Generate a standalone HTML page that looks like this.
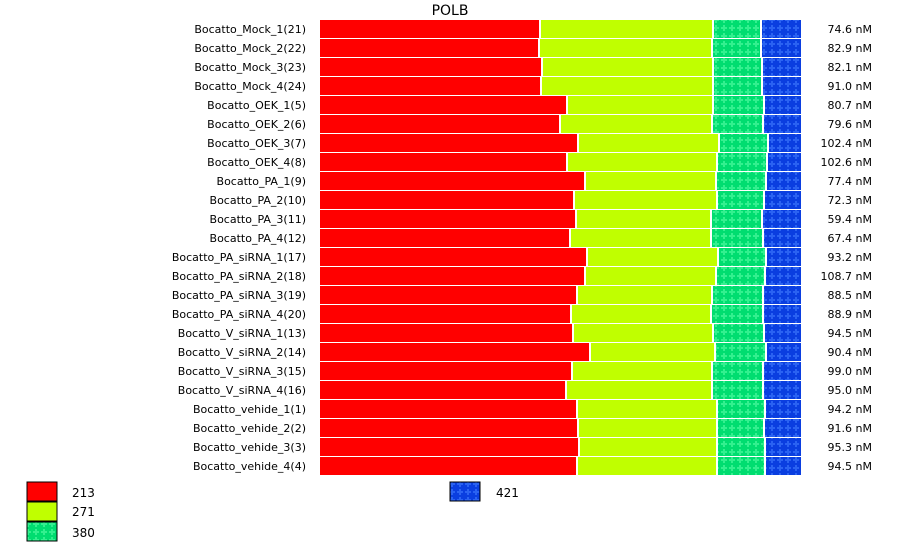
<!DOCTYPE html>
<html><head><style>body{margin:0;background:#fff}</style></head><body>
<svg width="900" height="546" xmlns="http://www.w3.org/2000/svg" font-family="DejaVu Sans, Liberation Sans, sans-serif" font-size="11">
<defs>
<pattern id="pg" width="8" height="8" patternUnits="userSpaceOnUse"><rect width="8" height="8" fill="#00dd70"/><path d="M3 1h2v2h2v2h-2v2h-2v-2h-2v-2h2z" fill="#33f08f"/></pattern>
<pattern id="pb" width="8" height="8" patternUnits="userSpaceOnUse"><rect width="8" height="8" fill="#0a3ee0"/><path d="M3 1h2v2h2v2h-2v2h-2v-2h-2v-2h2z" fill="#2a62f2"/></pattern>
</defs>
<text x="450" y="15" font-size="14" text-anchor="middle">POLB</text>
<g id="rows"></g>
<rect x="27" y="482" width="30" height="19" fill="#f00" stroke="#000"/>
<rect x="27" y="502" width="30" height="19" fill="#c0ff00" stroke="#000"/>
<rect x="27" y="522" width="30" height="19" fill="url(#pg)" stroke="#000"/>
<text x="72" y="497" font-size="12">213</text>
<text x="72" y="516" font-size="12">271</text>
<text x="72" y="537" font-size="12">380</text>
<rect x="450" y="482" width="30" height="19" fill="url(#pb)" stroke="#000"/>
<text x="496" y="497" font-size="12">421</text>
</svg>
<script>
var d=[["Bocatto_Mock_1(21)",539,712,760,"74.6"],["Bocatto_Mock_2(22)",538,711,760,"82.9"],["Bocatto_Mock_3(23)",541,712,761,"82.1"],["Bocatto_Mock_4(24)",540,712,761,"91.0"],["Bocatto_OEK_1(5)",566,712,763,"80.7"],["Bocatto_OEK_2(6)",559,711,762,"79.6"],["Bocatto_OEK_3(7)",577,718,767,"102.4"],["Bocatto_OEK_4(8)",566,716,766,"102.6"],["Bocatto_PA_1(9)",584,715,765,"77.4"],["Bocatto_PA_2(10)",573,716,763,"72.3"],["Bocatto_PA_3(11)",575,710,761,"59.4"],["Bocatto_PA_4(12)",569,710,762,"67.4"],["Bocatto_PA_siRNA_1(17)",586,717,765,"93.2"],["Bocatto_PA_siRNA_2(18)",584,715,764,"108.7"],["Bocatto_PA_siRNA_3(19)",576,711,762,"88.5"],["Bocatto_PA_siRNA_4(20)",570,710,762,"88.9"],["Bocatto_V_siRNA_1(13)",572,712,763,"94.5"],["Bocatto_V_siRNA_2(14)",589,714,765,"90.4"],["Bocatto_V_siRNA_3(15)",571,711,762,"99.0"],["Bocatto_V_siRNA_4(16)",565,711,762,"95.0"],["Bocatto_vehide_1(1)",576,716,764,"94.2"],["Bocatto_vehide_2(2)",577,716,763,"91.6"],["Bocatto_vehide_3(3)",578,716,764,"95.3"],["Bocatto_vehide_4(4)",576,716,764,"94.5"]];
var s="";d.forEach(function(r,i){var y=20+i*19,h=18;
s+='<rect x="320" y="'+y+'" width="'+(r[1]-320)+'" height="'+h+'" fill="#f00"/>';
s+='<rect x="'+(r[1]+2)+'" y="'+y+'" width="'+(r[2]-r[1]-2)+'" height="'+h+'" fill="#c0ff00"/>';
s+='<rect x="'+(r[2]+2)+'" y="'+y+'" width="'+(r[3]-r[2]-2)+'" height="'+h+'" fill="url(#pg)"/>';
s+='<rect x="'+(r[3]+2)+'" y="'+y+'" width="'+(801-r[3]-2)+'" height="'+h+'" fill="url(#pb)"/>';
s+='<text x="306" y="'+(y+13)+'" text-anchor="end">'+r[0]+'</text>';
s+='<text x="872" y="'+(y+13)+'" text-anchor="end">'+r[4]+' nM</text>';});
document.getElementById("rows").innerHTML=s;
</script>
</body></html>
